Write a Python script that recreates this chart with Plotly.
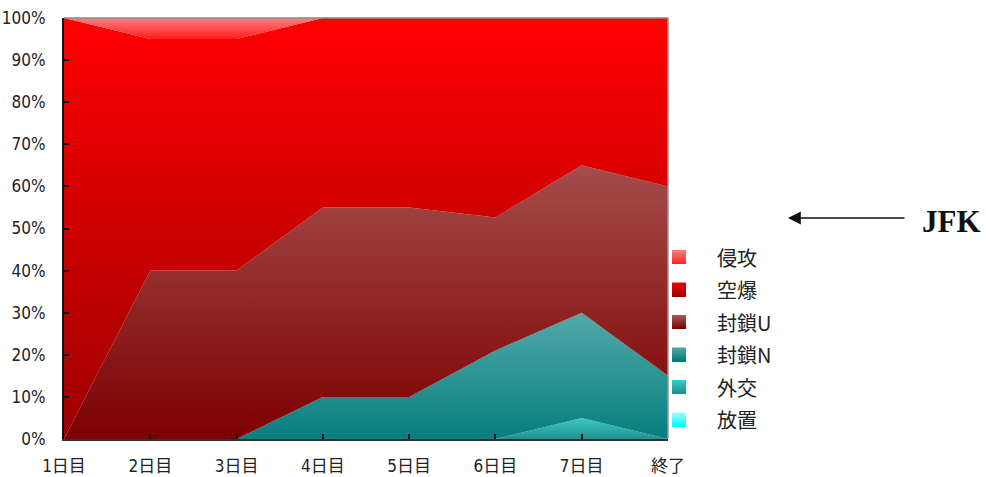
import plotly.graph_objects as go

# Days of the crisis and share of each option (%) per day
days = ["1日目", "2日目", "3日目", "4日目", "5日目", "6日目", "7日目", "終了"]

# stacked bottom -> top
houchi = [0, 0, 0, 0, 0, 0, 0, 0]                       # 放置
gaikou = [0, 0, 0, 0, 0, 0, 5, 0]                       # 外交
fusa_n = [0, 0, 0, 10, 10, 21.05, 25, 15]               # 封鎖N
fusa_u = [0, 40, 40, 45, 45, 31.58, 35, 45]             # 封鎖U
kuubaku = [100, 55, 55, 45, 45, 47.37, 35, 40]          # 空爆
shinkou = [0, 5, 5, 0, 0, 0, 0, 0]                      # 侵攻

y_ticks = [0, 10, 20, 30, 40, 50, 60, 70, 80, 90, 100]
y_tick_text = [f"{v}%" for v in y_ticks]

W, H = 986, 477
L, R, T, B = 64, 668, 18, 439  # plot area edges in pixels


def px_x(p):
    return (p - L) / (R - L)


def px_y(p):
    return (B - p) / (B - T)


# name, values, bottom colour, top colour, gradient span (data units)
series = [
    ("放置", houchi, "#00ffff", "#8affff", (0, 5)),
    ("外交", gaikou, "#22908f", "#3ccaca", (0, 5)),
    ("封鎖N", fusa_n, "#077e7e", "#52a9a9", (0, 30)),
    ("封鎖U", fusa_u, "#7d0000", "#a44c4c", (0, 65)),
    ("空爆", kuubaku, "#9c0000", "#ff0000", (0, 100)),
    ("侵攻", shinkou, "#ff1c1c", "#ff8080", (95, 100)),
]

fig = go.Figure()
for name, vals, c0, c1, (g0, g1) in series:
    fig.add_trace(go.Scatter(
        x=days, y=vals, name=name, mode="none",
        stackgroup="one", groupnorm="percent",
        fill="tonexty",
        fillgradient=dict(type="vertical", colorscale=[[0, c0], [1, c1]],
                          start=g0, stop=g1),
        showlegend=False,
        hoverinfo="x+y+name",
    ))

tick_font = dict(family="Liberation Sans Narrow, Arial Narrow, DejaVu Sans Condensed, Liberation Sans, Noto Sans CJK JP",
                 size=17, color="#222222")

fig.update_layout(
    width=W, height=H,
    margin=dict(l=L, r=W - R, t=T, b=H - B, pad=0, autoexpand=False),
    paper_bgcolor="white", plot_bgcolor="white",
    showlegend=False,
    xaxis=dict(
        range=[0, len(days) - 1], showgrid=False, zeroline=False, automargin=False,
        showline=True, linecolor="#333333", linewidth=2,
        ticks="inside", ticklen=5, tickcolor="#111111", tickwidth=1.5,
        tickfont=tick_font, ticklabelstandoff=11,
    ),
    yaxis=dict(
        range=[0, 100], showgrid=False, zeroline=False, automargin=False,
        showline=True, linecolor="#111111", linewidth=2,
        tickvals=y_ticks, ticktext=y_tick_text,
        ticks="inside", ticklen=5, tickcolor="#111111", tickwidth=1.5,
        tickfont=tick_font, ticklabelstandoff=13,
    ),
)

shapes = [
    # top and right frame of the plot area
    dict(type="line", xref="paper", yref="paper", x0=0, x1=1, y0=1, y1=1,
         line=dict(color="#888888", width=1.5)),
    dict(type="line", xref="paper", yref="paper", x0=1, x1=1, y0=0, y1=1,
         line=dict(color="#999999", width=1.5)),
]
annotations = []

# legend: gradient swatches with labels, top entry first
leg_y = [257, 289.5, 322, 354.5, 387, 419.5]
sw_x0, sw_x1, sw_h = 672, 686, 14
strips = 14


def mix(c0, c1, t):
    a = [int(c0[i:i + 2], 16) for i in (1, 3, 5)]
    b = [int(c1[i:i + 2], 16) for i in (1, 3, 5)]
    return "rgb({},{},{})".format(*[round(a[k] + (b[k] - a[k]) * t) for k in range(3)])


legend_colors = {
    "侵攻": ("#ff2424", "#ff7a7a"),
    "空爆": ("#990000", "#f00000"),
    "封鎖U": ("#7a0000", "#a85858"),
    "封鎖N": ("#007a7a", "#52a4a4"),
    "外交": ("#1c8c8c", "#36cccc"),
    "放置": ("#00ffff", "#99ffff"),
}

for (name, _, _, _, _), yc in zip(reversed(series), leg_y):
    c0, c1 = legend_colors[name]
    top = yc - sw_h / 2
    bottom = yc + sw_h / 2
    # each strip runs to the swatch bottom; later strips cover the lower part
    for k in range(strips):
        t = 1 - k / (strips - 1)
        shapes.append(dict(
            type="rect", xref="paper", yref="paper",
            x0=px_x(sw_x0), x1=px_x(sw_x1),
            y0=px_y(bottom),
            y1=px_y(top + k * sw_h / strips),
            fillcolor=mix(c0, c1, t), line=dict(width=0), layer="above",
        ))
    annotations.append(dict(
        xref="paper", yref="paper", x=px_x(715), y=px_y(yc),
        xanchor="left", yanchor="middle", showarrow=False, text=name,
        font=dict(family="Noto Sans CJK JP", size=20, color="#222222"),
    ))

# JFK marker with arrow
annotations.append(dict(
    xref="paper", yref="paper", x=px_x(951), y=px_y(221),
    xanchor="center", yanchor="middle", showarrow=False, text="<b>JFK</b>",
    font=dict(family="Liberation Serif", size=31, color="#111111"),
))
annotations.append(dict(
    xref="paper", yref="paper", x=px_x(788), y=px_y(218),
    ax=118, ay=0, text="", showarrow=True,
    arrowhead=2, arrowsize=1.6, arrowwidth=1.6, arrowcolor="#111111",
))

fig.update_layout(shapes=shapes, annotations=annotations)

fig.write_html("out.html")
